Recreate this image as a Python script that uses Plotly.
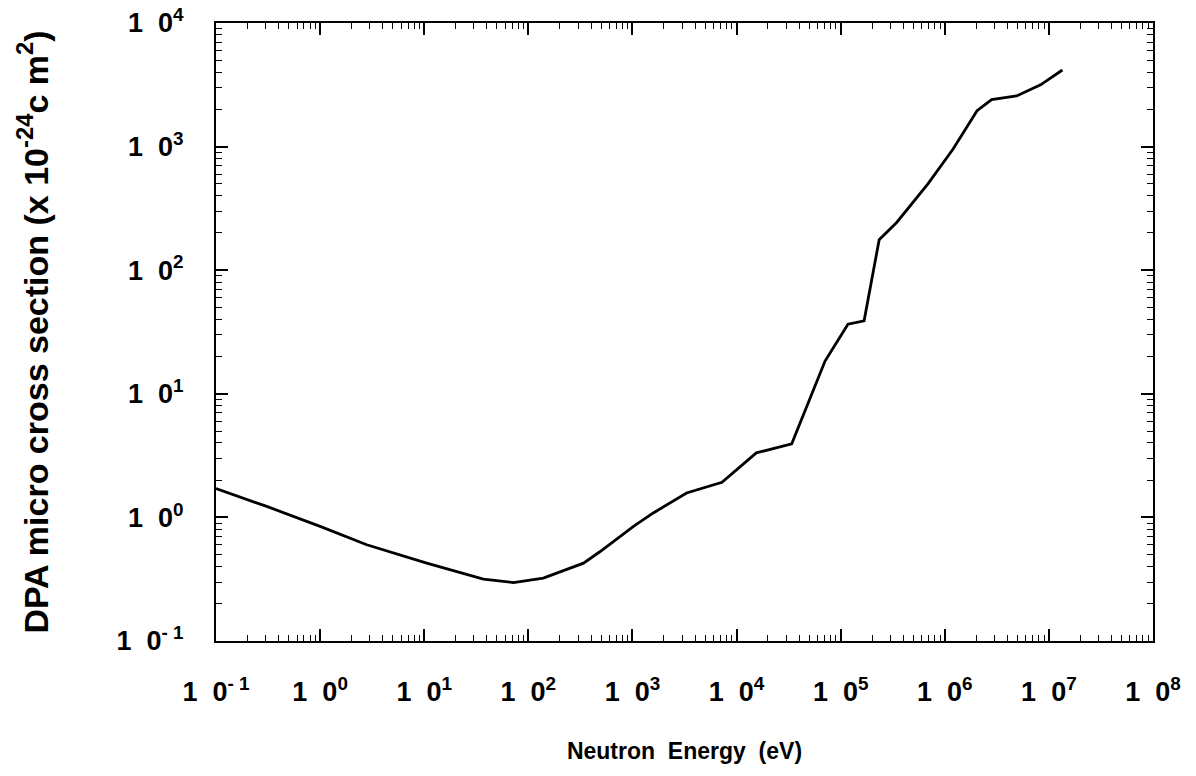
import plotly.graph_objects as go

# Neutron energy (eV) and DPA micro cross section (x 1e-24 cm^2)
energy_log10 = [-1.0, -0.513, 0.0, 0.448, 1.024, 1.568, 1.856, 2.144, 2.53, 2.69, 3.01, 3.20,
                3.52, 3.86, 4.19, 4.53, 4.85, 5.07, 5.225, 5.37, 5.54, 5.84, 6.08, 6.31,
                6.45, 6.69, 6.92, 7.13]
sigma_log10 = [0.233, 0.089, -0.073, -0.221, -0.370, -0.50, -0.527, -0.491, -0.37, -0.276, -0.073, 0.036,
               0.198, 0.284, 0.522, 0.595, 1.265, 1.563, 1.59, 2.247, 2.388, 2.70, 2.98, 3.29,
               3.38, 3.41, 3.50, 3.62]
energy = [10 ** v for v in energy_log10]
sigma = [10 ** v for v in sigma_log10]

x_tickvals = [1e-1, 1e0, 1e1, 1e2, 1e3, 1e4, 1e5, 1e6, 1e7, 1e8]
x_ticktext = ["1  0<sup>- 1</sup>", "1  0<sup>0</sup>", "1  0<sup>1</sup>", "1  0<sup>2</sup>", "1  0<sup>3</sup>",
              "1  0<sup>4</sup>", "1  0<sup>5</sup>", "1  0<sup>6</sup>", "1  0<sup>7</sup>", "1  0<sup>8</sup>"]
y_tickvals = [1e-1, 1e0, 1e1, 1e2, 1e3, 1e4]
y_ticktext = ["1  0<sup>- 1</sup>", "1  0<sup>0</sup>", "1  0<sup>1</sup>", "1  0<sup>2</sup>", "1  0<sup>3</sup>",
              "1  0<sup>4</sup>"]

font_family = "Liberation Sans, Arial, sans-serif"

fig = go.Figure()
fig.add_trace(go.Scatter(x=energy, y=sigma, mode="lines",
                         line=dict(color="black", width=2.8), showlegend=False))

axis_common = dict(
    type="log",
    automargin=False,
    showgrid=False,
    zeroline=False,
    showline=True,
    linecolor="black",
    linewidth=2,
    mirror="ticks",
    ticks="inside",
    ticklen=12,
    tickwidth=1.5,
    tickcolor="black",
    minor=dict(ticks="inside", ticklen=6, tickwidth=1, tickcolor="black", dtick="D1", showgrid=False),
    tickfont=dict(family=font_family, size=27, color="black", weight="bold"),
)

fig.update_xaxes(**axis_common, range=[-1, 8], tickvals=x_tickvals, ticktext=x_ticktext,
                 ticklabelstandoff=26,
                 title=dict(text="Neutron  Energy  (eV)", standoff=36,
                            font=dict(family=font_family, size=23, color="black", weight="bold")))
fig.update_yaxes(**axis_common, range=[-1, 4], tickvals=y_tickvals, ticktext=y_ticktext,
                 ticklabelstandoff=25,
                 title=dict(text="DPA micro cross section (x 10<sup>-24</sup>c m<sup>2</sup>)", standoff=58,
                            font=dict(family=font_family, size=34, color="black", weight="bold")))

fig.update_layout(
    width=1196, height=776,
    margin=dict(l=216, r=43, t=23, b=135),
    paper_bgcolor="white", plot_bgcolor="white",
    font=dict(family=font_family, color="black"),
)

fig.write_html("out.html")
